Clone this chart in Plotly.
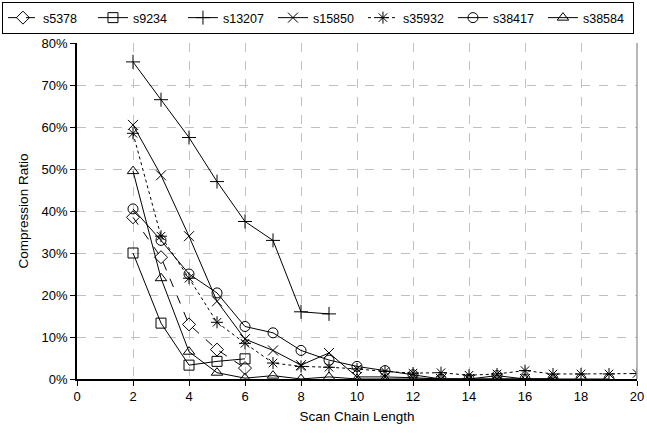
import plotly.graph_objects as go

chain_len = list(range(2, 21))

s5378 = [38.5, 29.0, 13.0, 7.0, 2.6]
s9234 = [30.0, 13.3, 3.3, 4.2, 4.8]
s13207 = [75.5, 66.5, 57.5, 47.0, 37.5, 33.0, 16.0, 15.5]
s15850 = [60.5, 48.5, 34.0, 18.5, 9.5, 6.8, 3.3, 6.2, 0.5, 0.5, 0.3, 0.0, 0.0, 0.0, 0.0, 0.0]
s35932 = [58.5, 34.0, 24.0, 13.5, 8.5, 3.8, 3.0, 2.8, 2.4, 1.8, 1.4, 1.5, 0.9, 1.2, 2.0, 1.2, 1.2, 1.2, 1.3]
s38417 = [40.5, 33.0, 25.0, 20.5, 12.5, 11.0, 6.8, 4.5, 3.0, 2.0, 1.0, 0.0, 0.0, 0.8, 0.0, 0.0, 0.0, 0.0]
s38584 = [49.5, 24.0, 6.5, 1.5, 0.2, 0.8, 0.0, 0.5, 0.0, 0.0, 0.0, 0.0, 0.0, 0.0, 0.0, 0.0]

series = [
    ("s5378", s5378, "diamond-open", "dash"),
    ("s9234", s9234, "square-open", "solid"),
    ("s13207", s13207, "cross-thin-open", "solid"),
    ("s15850", s15850, "x-thin-open", "solid"),
    ("s35932", s35932, "asterisk-open", "dot"),
    ("s38417", s38417, "circle-open", "solid"),
    ("s38584", s38584, "triangle-up-open", "solid"),
]

fig = go.Figure()
for name, vals, sym, dash in series:
    fig.add_trace(go.Scatter(
        x=chain_len[:len(vals)], y=vals, name=name, mode="lines+markers",
        line=dict(color="black", width=1, dash=dash),
        marker=dict(symbol=sym, size=10, color="black", line=dict(color="black", width=1)),
    ))

font = "Liberation Sans, Arial, sans-serif"
fig.update_layout(
    width=647, height=441,
    margin=dict(l=77, r=10, t=43, b=62, autoexpand=False),
    paper_bgcolor="white", plot_bgcolor="white",
    font=dict(family=font, size=13, color="black"),
    showlegend=True,
    legend=dict(orientation="h", x=-0.134, xanchor="left", y=1.122, yanchor="top",
                bordercolor="black", borderwidth=1, font=dict(size=12.5),
                itemwidth=30, entrywidth=45, entrywidthmode="pixels"),
    xaxis=dict(range=[0, 20], dtick=2, tick0=0, showgrid=True, gridcolor="#c0c0c0",
               griddash="dash", gridwidth=1, showline=True, linecolor="black", linewidth=1.5,
               ticks="outside", ticklen=5, tickcolor="black", zeroline=False,
               title=dict(text="Scan Chain Length", font=dict(size=13.5), standoff=8)),
    yaxis=dict(range=[0, 80], dtick=10, ticksuffix="%", showgrid=True, gridcolor="#c0c0c0",
               griddash="dash", gridwidth=1, showline=True, linecolor="black", linewidth=1.5,
               ticks="outside", ticklen=5, tickcolor="black", zeroline=False,
               title=dict(text="Compression Ratio", font=dict(size=13.5), standoff=10)),
    shapes=[dict(type="line", xref="paper", yref="paper", x0=1, x1=1, y0=0, y1=1,
                 line=dict(color="#a0a0a0", width=1.5))],
)

fig.write_html("out.html", config={"displayModeBar": False},
               post_script="document.body.style.margin='0';document.body.style.overflow='hidden';")
